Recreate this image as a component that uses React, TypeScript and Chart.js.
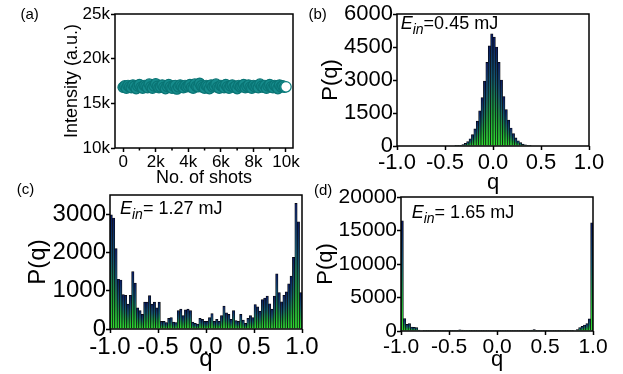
import React, { useEffect, useRef } from "react";
import { Chart, registerables } from "chart.js";

Chart.register(...registerables);

const FAMILY = '"Liberation Sans", Arial, Helvetica, sans-serif';

// ---------- panel (a): intensity vs shot number ----------
const shotNumbers = [
  0, 100, 200, 300, 400, 500, 600, 700, 800, 900,
  1000, 1100, 1200, 1300, 1400, 1500, 1600, 1700, 1800, 1900,
  2000, 2100, 2200, 2300, 2400, 2500, 2600, 2700, 2800, 2900,
  3000, 3100, 3200, 3300, 3400, 3500, 3600, 3700, 3800, 3900,
  4000, 4100, 4200, 4300, 4400, 4500, 4600, 4700, 4800, 4900,
  5000, 5100, 5200, 5300, 5400, 5500, 5600, 5700, 5800, 5900,
  6000, 6100, 6200, 6300, 6400, 6500, 6600, 6700, 6800, 6900,
  7000, 7100, 7200, 7300, 7400, 7500, 7600, 7700, 7800, 7900,
  8000, 8100, 8200, 8300, 8400, 8500, 8600, 8700, 8800, 8900,
  9000, 9100, 9200, 9300, 9400, 9500, 9600, 9700, 9800, 9900,
  10000,
];
const intensityValues = [
  16800, 16950, 16700, 17000, 16850, 16750, 17050, 16900, 16650, 16950,
  17100, 16800, 16700, 17000, 16900, 16750, 17150, 16850, 16700, 16950,
  17200, 16900, 16750, 16850, 17050, 16800, 16650, 16900, 17100, 16850,
  16700, 16950, 17000, 16600, 16850, 17050, 16900, 16750, 17000, 16850,
  16950, 17100, 16800, 16700, 17150, 16900, 16850, 17250, 16950, 16800,
  16700, 17000, 16900, 16650, 17050, 16850, 16950, 17150, 16800, 16700,
  17000, 16900, 16750, 17100, 16850, 16700, 16950, 17050, 16800, 16900,
  16650, 17000, 16850, 16950, 17100, 16750, 16900, 17050, 16800, 16700,
  17000, 16850, 16950, 16750, 17150, 16900, 16800, 17000, 16700, 16950,
  17100, 16850, 16750, 17000, 16900, 16650, 17050, 16850, 16950, 16800,
  16850,
];
const shotTicks = [0, 2000, 4000, 6000, 8000, 10000];
const shotTickLabels = ["0", "2k", "4k", "6k", "8k", "10k"];
const shotMinorTicks = [1000, 3000, 5000, 7000, 9000];
const intensityTicks = [10000, 15000, 20000, 25000];
const intensityTickLabels = ["10k", "15k", "20k", "25k"];

// ---------- panels (b)-(d): histograms of q ----------
const qBins = [
  -0.9875, -0.9625, -0.9375, -0.9125, -0.8875, -0.8625, -0.8375, -0.8125, -0.7875, -0.7625,
  -0.7375, -0.7125, -0.6875, -0.6625, -0.6375, -0.6125, -0.5875, -0.5625, -0.5375, -0.5125,
  -0.4875, -0.4625, -0.4375, -0.4125, -0.3875, -0.3625, -0.3375, -0.3125, -0.2875, -0.2625,
  -0.2375, -0.2125, -0.1875, -0.1625, -0.1375, -0.1125, -0.0875, -0.0625, -0.0375, -0.0125,
  0.0125, 0.0375, 0.0625, 0.0875, 0.1125, 0.1375, 0.1625, 0.1875, 0.2125, 0.2375,
  0.2625, 0.2875, 0.3125, 0.3375, 0.3625, 0.3875, 0.4125, 0.4375, 0.4625, 0.4875,
  0.5125, 0.5375, 0.5625, 0.5875, 0.6125, 0.6375, 0.6625, 0.6875, 0.7125, 0.7375,
  0.7625, 0.7875, 0.8125, 0.8375, 0.8625, 0.8875, 0.9125, 0.9375, 0.9625, 0.9875,
];
const pq045 = [
  0, 0, 0, 0, 0, 0, 0, 0, 0, 0,
  0, 0, 0, 0, 0, 0, 0, 0, 0, 0,
  0, 0, 0, 0, 8, 18, 35, 65, 120, 200,
  330, 520, 780, 1130, 1600, 2200, 2950, 3800, 4550, 5100,
  4950, 4500, 3800, 3000, 2250, 1650, 1180, 820, 560, 370,
  240, 150, 90, 55, 30, 14, 0, 0, 0, 0,
  0, 0, 0, 0, 0, 0, 0, 0, 0, 0,
  0, 0, 0, 0, 0, 0, 0, 0, 0, 0,
];
const pq127 = [
  2980, 2900, 2100, 1300, 1280, 900, 880, 650, 880, 1500,
  1200, 550, 480, 380, 700, 700, 870, 650, 700, 550,
  700, 200, 200, 170, 280, 300, 180, 170, 480, 520,
  350, 500, 520, 480, 180, 150, 130, 280, 250, 200,
  200, 300, 400, 200, 250, 200, 350, 600, 420, 380,
  250, 480, 220, 200, 380, 230, 150, 280, 350, 300,
  640, 580, 470, 770, 810, 860, 660, 520, 860, 1440,
  950, 710, 880, 970, 1180, 1380, 1870, 3280, 2800, 950,
];
const pq165 = [
  16450, 1850, 1000, 1100, 600, 550, 500, 150, 80, 60,
  50, 40, 40, 30, 40, 50, 30, 40, 30, 40,
  30, 40, 50, 60, 180, 120, 40, 30, 40, 30,
  40, 30, 40, 30, 30, 40, 30, 40, 40, 30,
  40, 30, 30, 40, 30, 40, 30, 30, 40, 30,
  40, 30, 40, 60, 150, 220, 50, 40, 30, 40,
  30, 40, 30, 40, 50, 40, 30, 40, 50, 60,
  50, 60, 80, 200, 500, 700, 900, 1100, 1800, 16150,
];
const qTicks = [-1, -0.5, 0, 0.5, 1];
const qTickLabels = ["-1.0", "-0.5", "0.0", "0.5", "1.0"];
const pTicks045 = [0, 1500, 3000, 4500, 6000];
const pTickLabels045 = ["0", "1500", "3000", "4500", "6000"];
const pTicks127 = [0, 1000, 2000, 3000];
const pTickLabels127 = ["0", "1000", "2000", "3000"];
const pTicks165 = [0, 5000, 10000, 15000, 20000];
const pTickLabels165 = ["0", "5000", "10000", "15000", "20000"];

// ---------- helpers ----------
type Seg = { text: string; size: number; italic?: boolean; dy?: number };
type TextItem = { x: number; y: number; segs: Seg[] };

const framePlugin = {
  id: "frame",
  afterDatasetsDraw(chart: any, _args: any, opts: any) {
    const { ctx, chartArea: a } = chart;
    ctx.save();
    ctx.strokeStyle = "#000";
    ctx.lineWidth = 1.5;
    ctx.strokeRect(a.left, a.top, a.right - a.left, a.bottom - a.top);
    if (opts && opts.minorX) {
      const xs = chart.scales.x;
      ctx.beginPath();
      for (const v of opts.minorX) {
        const px = xs.getPixelForValue(v);
        ctx.moveTo(px, a.bottom);
        ctx.lineTo(px, a.bottom + 2.5);
      }
      ctx.stroke();
    }
    if (opts && opts.texts) {
      ctx.fillStyle = "#000";
      ctx.textBaseline = "alphabetic";
      ctx.textAlign = "left";
      for (const t of opts.texts as TextItem[]) {
        let cx = t.x;
        for (const s of t.segs) {
          ctx.font = `${s.italic ? "italic " : ""}${s.size}px ${FAMILY}`;
          ctx.fillText(s.text, cx, t.y + (s.dy || 0));
          cx += ctx.measureText(s.text).width;
        }
      }
    }
    ctx.restore();
  },
};

function barGradient(c: any) {
  const chart = c.chart;
  const y = chart.scales && chart.scales.y;
  const raw = c.raw;
  if (!y || !raw || !chart.chartArea) return "#1f9a45";
  const base = y.getPixelForValue(0);
  const top = y.getPixelForValue(raw.y);
  if (base - top < 1) return "#165a50";
  const g = chart.ctx.createLinearGradient(0, base, 0, top);
  g.addColorStop(0, "#2fe02f");
  g.addColorStop(0.3, "#1c9e3c");
  g.addColorStop(0.62, "#135670");
  g.addColorStop(1, "#0a1a62");
  return g;
}

const tickGrid = {
  display: true,
  drawOnChartArea: false,
  drawTicks: true,
  tickLength: 4,
  tickWidth: 1.5,
  tickColor: "#000",
  offset: false,
};

type HistOpts = {
  values: number[];
  yMax: number;
  yTicks: number[];
  yTickLabels: string[];
  padding: { left: number; right: number; top: number; bottom: number };
  yWidth: number;
  xHeight: number;
  tickSize: number;
  yTickSize: number;
  titleSize: number;
  texts: TextItem[];
};

function histConfig(p: HistOpts): any {
  return {
    type: "bar",
    data: {
      datasets: [
        {
          data: qBins.map((q, i) => ({ x: q, y: p.values[i] })),
          backgroundColor: barGradient,
          borderColor: "#050505",
          borderWidth: 0.7,
          barPercentage: 1,
          categoryPercentage: 1,
        },
      ],
    },
    options: {
      responsive: false,
      animation: false,
      events: [],
      layout: { padding: p.padding },
      plugins: {
        legend: { display: false },
        tooltip: { enabled: false },
        frame: { texts: p.texts },
      },
      scales: {
        x: {
          type: "linear",
          min: -1,
          max: 1,
          offset: false,
          afterBuildTicks: (s: any) => {
            s.ticks = qTicks.map((v) => ({ value: v }));
          },
          afterFit: (s: any) => {
            s.height = p.xHeight;
          },
          grid: tickGrid,
          border: { display: false },
          ticks: {
            color: "#000",
            font: { family: FAMILY, size: p.tickSize },
            padding: 0,
            maxRotation: 0,
            autoSkip: false,
            callback: (_v: any, i: number) => qTickLabels[i],
          },
          title: {
            display: true,
            text: "q",
            color: "#000",
            font: { family: FAMILY, size: p.titleSize },
            padding: 0,
          },
        },
        y: {
          min: 0,
          max: p.yMax,
          afterBuildTicks: (s: any) => {
            s.ticks = p.yTicks.map((v) => ({ value: v }));
          },
          afterFit: (s: any) => {
            s.width = p.yWidth;
          },
          grid: tickGrid,
          border: { display: false },
          ticks: {
            color: "#000",
            font: { family: FAMILY, size: p.yTickSize },
            padding: 0,
            autoSkip: false,
            callback: (_v: any, i: number) => p.yTickLabels[i],
          },
          title: {
            display: true,
            text: "P(q)",
            color: "#000",
            font: { family: FAMILY, size: p.titleSize },
            padding: 0,
          },
        },
      },
    },
    plugins: [framePlugin],
  };
}

function ein(x: number, y: number, rest: string): TextItem {
  return {
    x,
    y,
    segs: [
      { text: "E", size: 18, italic: true },
      { text: "in", size: 14, italic: true, dy: 5 },
      { text: rest, size: 18 },
    ],
  };
}

function shotsConfig(): any {
  const lastIdx = shotNumbers.length - 1;
  return {
    type: "scatter",
    data: {
      datasets: [
        {
          data: shotNumbers.map((x, i) => ({ x, y: intensityValues[i] })),
          pointRadius: 5.2,
          pointBorderWidth: 1.2,
          pointBorderColor: (c: any) => (c.dataIndex === lastIdx ? "#0b7f7f" : "#0a7474"),
          pointBackgroundColor: (c: any) => (c.dataIndex === lastIdx ? "#ffffff" : "#178c8c"),
          showLine: false,
        },
      ],
    },
    options: {
      responsive: false,
      animation: false,
      events: [],
      layout: { padding: { left: 60, right: 330, top: 14, bottom: 184 } },
      plugins: {
        legend: { display: false },
        tooltip: { enabled: false },
        frame: {
          minorX: shotMinorTicks,
          texts: [
            { x: 20.5, y: 18.5, segs: [{ text: "(a)", size: 15 }] },
            { x: 308.5, y: 18.5, segs: [{ text: "(b)", size: 15 }] },
            { x: 16.7, y: 194, segs: [{ text: "(c)", size: 15 }] },
            { x: 314, y: 195, segs: [{ text: "(d)", size: 15 }] },
          ],
        },
      },
      scales: {
        x: {
          type: "linear",
          min: -500,
          max: 10430,
          afterBuildTicks: (s: any) => {
            s.ticks = shotTicks.map((v) => ({ value: v }));
          },
          afterFit: (s: any) => {
            s.height = 42;
          },
          grid: tickGrid,
          border: { display: false },
          ticks: {
            color: "#000",
            font: { family: FAMILY, size: 17 },
            padding: 0,
            maxRotation: 0,
            autoSkip: false,
            callback: (_v: any, i: number) => shotTickLabels[i],
          },
          title: {
            display: true,
            text: "No. of shots",
            color: "#000",
            font: { family: FAMILY, size: 18 },
            padding: 1,
          },
        },
        y: {
          min: 10000,
          max: 25000,
          afterBuildTicks: (s: any) => {
            s.ticks = intensityTicks.map((v) => ({ value: v }));
          },
          afterFit: (s: any) => {
            s.width = 55;
          },
          grid: tickGrid,
          border: { display: false },
          ticks: {
            color: "#000",
            font: { family: FAMILY, size: 17 },
            padding: 1,
            autoSkip: false,
            callback: (_v: any, i: number) => intensityTickLabels[i],
          },
          title: {
            display: true,
            text: "Intensity (a.u.)",
            color: "#000",
            font: { family: FAMILY, size: 18 },
            padding: 1,
          },
        },
      },
    },
    plugins: [framePlugin],
  };
}

const canvasStyle: React.CSSProperties = { position: "absolute", left: 0, top: 0 };

export default function App() {
  const refA = useRef<HTMLCanvasElement>(null);
  const refB = useRef<HTMLCanvasElement>(null);
  const refC = useRef<HTMLCanvasElement>(null);
  const refD = useRef<HTMLCanvasElement>(null);

  useEffect(() => {
    const charts: Chart[] = [];
    charts.push(new Chart(refA.current as HTMLCanvasElement, shotsConfig()));
    charts.push(
      new Chart(
        refB.current as HTMLCanvasElement,
        histConfig({
          values: pq045,
          yMax: 6000,
          yTicks: pTicks045,
          yTickLabels: pTickLabels045,
          padding: { left: 318, right: 34, top: 14, bottom: 178 },
          yWidth: 79,
          xHeight: 50,
          tickSize: 22,
          yTickSize: 22,
          titleSize: 22,
          texts: [ein(400.7, 29.3, "=0.45 mJ")],
        })
      )
    );
    charts.push(
      new Chart(
        refC.current as HTMLCanvasElement,
        histConfig({
          values: pq127,
          yMax: 3500,
          yTicks: pTicks127,
          yTickLabels: pTickLabels127,
          padding: { left: 24, right: 321, top: 195, bottom: 0 },
          yWidth: 86,
          xHeight: 45,
          tickSize: 24,
          yTickSize: 24,
          titleSize: 24,
          texts: [ein(120, 214, "= 1.27 mJ")],
        })
      )
    );
    charts.push(
      new Chart(
        refD.current as HTMLCanvasElement,
        histConfig({
          values: pq165,
          yMax: 20000,
          yTicks: pTicks165,
          yTickLabels: pTickLabels165,
          padding: { left: 313, right: 30, top: 197, bottom: 1 },
          yWidth: 88,
          xHeight: 42,
          tickSize: 21,
          yTickSize: 21,
          titleSize: 22,
          texts: [ein(411.7, 217.5, "= 1.65 mJ")],
        })
      )
    );
    return () => {
      charts.forEach((c) => c.destroy());
    };
  }, []);

  return (
    <div
      style={{
        position: "absolute",
        left: 0,
        top: 0,
        width: 623,
        height: 374,
        background: "#ffffff",
        overflow: "hidden",
      }}
    >
      <canvas ref={refA} width={623} height={374} style={canvasStyle} />
      <canvas ref={refB} width={623} height={374} style={canvasStyle} />
      <canvas ref={refC} width={623} height={374} style={canvasStyle} />
      <canvas ref={refD} width={623} height={374} style={canvasStyle} />
    </div>
  );
}
